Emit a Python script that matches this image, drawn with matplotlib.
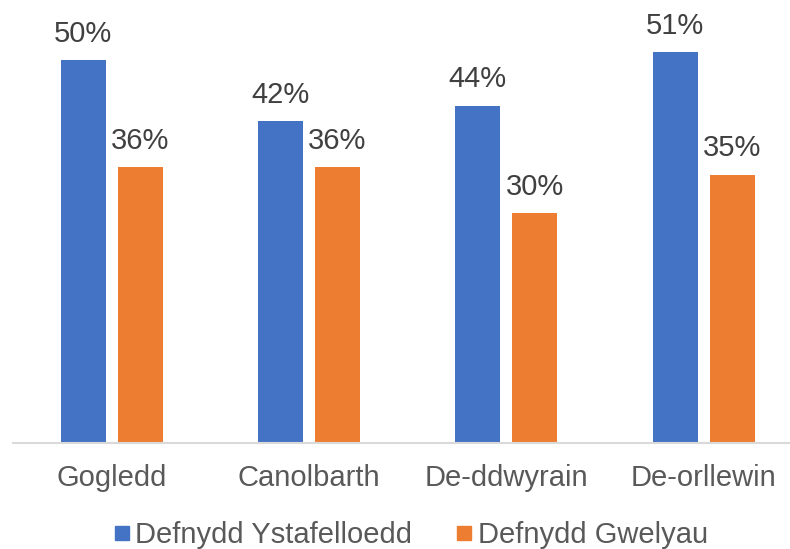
import matplotlib
matplotlib.use("Agg")
import matplotlib.pyplot as plt
from matplotlib.lines import Line2D
import numpy as np

categories = ["Gogledd", "Canolbarth", "De-ddwyrain", "De-orllewin"]
rooms = [50, 42, 44, 51]
beds = [36, 36, 30, 35]
series_names = ["Defnydd Ystafelloedd", "Defnydd Gwelyau"]
colors = ["#4472C4", "#ED7D31"]

plt.rcParams['font.family'] = ['Liberation Sans', 'DejaVu Sans']

W, H = 790, 549
fig = plt.figure(figsize=(W/100, H/100), dpi=100)
left_px, right_px, base_px = 13, 790, 443
ax = fig.add_axes([left_px/W, (H-base_px)/H, (right_px-left_px)/W, base_px/H])

group_px = 197.3
x = np.arange(len(categories))
bw = 45/group_px
off = 28.5/group_px
b1 = ax.bar(x - off, rooms, bw, color=colors[0])
b2 = ax.bar(x + off, beds, bw, color=colors[1])

px_per = 7.66
ax.set_ylim(0, base_px/px_per)
ax.set_xlim(-0.5, -0.5 + (right_px-left_px)/group_px)

for bars, vals in [(b1, rooms), (b2, beds)]:
    for r, v in zip(bars, vals):
        ax.annotate(f"{v}%", (r.get_x()+r.get_width()/2, v), xytext=(0, 9),
                    textcoords="offset points", ha="center", va="bottom",
                    fontsize=21, color="#404040")

for s in ["top", "right", "left"]:
    ax.spines[s].set_visible(False)
ax.spines["bottom"].set_color("#D9D9D9")
ax.spines["bottom"].set_linewidth(1.5)
ax.set_yticks([])
ax.set_xticks(x)
ax.set_xticklabels(categories, fontsize=21, color="#595959")
ax.tick_params(axis="x", length=0, pad=15)

handles = [Line2D([], [], marker="s", linestyle="none", markersize=10.5,
                  markerfacecolor=c, markeredgecolor=c) for c in colors]
fig.legend(handles, series_names, loc="center", bbox_to_anchor=(0.52, 0.026),
           ncol=2, frameon=False, fontsize=21, labelcolor="#595959",
           handlelength=0.55, handletextpad=0.2, columnspacing=1.5,
           borderaxespad=0, borderpad=0)

fig.savefig("out.png", dpi=100)
